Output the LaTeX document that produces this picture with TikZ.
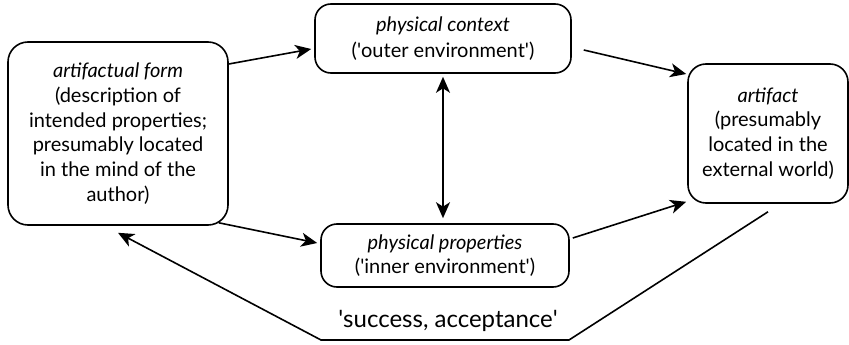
\documentclass[tikz,border=0pt]{standalone}
\usepackage{fontspec}
\setmainfont{Lato}
\usetikzlibrary{arrows.meta,calc}
\begin{document}
\begin{tikzpicture}[x=1pt,y=-1pt,
  box/.style={draw, line width=1.6pt, align=center, inner sep=0pt,
    font=\fontsize{20}{24.8}\selectfont},
  tip/.tip={Stealth[length=16pt,width=14pt,inset=4.5pt]},
  arr/.style={line width=1.6pt, -tip},
  darr/.style={line width=1.6pt, tip-tip},
  lbl/.style={font=\fontsize{24}{28}\selectfont}]
\useasboundingbox (0,0) rectangle (849,345);
\node[box, rounded corners=20pt, minimum width=220pt, minimum height=183pt] (form) at (118,133.5)
  {\textit{artifactual form}\\(description of\\intended properties;\\presumably located\\in the mind of the\\author)};
\node[box, rounded corners=16pt, minimum width=256pt, minimum height=69pt] (context) at (443,38.5)
  {\textit{physical context}\\[1.5pt](\textquotesingle outer environment\textquotesingle)};
\node[box, rounded corners=16pt, minimum width=248pt, minimum height=63pt] (props) at (445,255.5)
  {\textit{physical properties}\\(\textquotesingle inner environment\textquotesingle)};
\node[box, rounded corners=18pt, minimum width=160pt, minimum height=139pt] (artifact) at (768,133.5)
  {\textit{artifact}\\(presumably\\located in the\\external world)};
\coordinate (br) at (569,340);
\coordinate (bl) at (321,340);
\draw[arr] ([yshift=69.5pt]form.east) -- ([xshift=-3pt,yshift=-10.5pt]context.west);
\draw[arr] ([xshift=12pt,yshift=-11.5pt]context.east) -- ([xshift=-1pt,yshift=59.5pt]artifact.west);
\draw[arr] ([xshift=-10pt,yshift=3pt]form.south east) -- ([xshift=-3pt,yshift=12.5pt]props.west);
\draw[arr] ([xshift=3pt,yshift=17.5pt]props.east) -- ([xshift=-1pt,yshift=2pt]artifact.south west);
\draw[darr] ([yshift=-3pt]context.south) -- ([yshift=5pt]props.north -| context.south);
\draw[arr] ([yshift=-8pt]artifact.south) -- (br) -- (bl) -- ([yshift=-7pt]form.south);
\node[lbl] (succ) at (448,321) {\textquotesingle success, acceptance\textquotesingle};
\end{tikzpicture}
\end{document}
